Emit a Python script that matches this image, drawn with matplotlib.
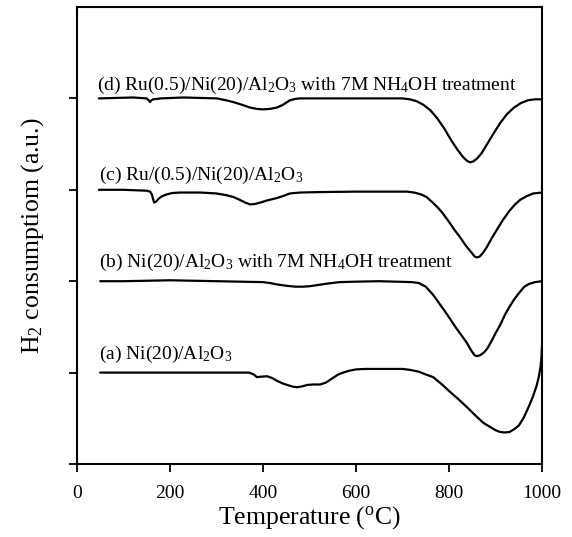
import matplotlib
matplotlib.use("Agg")
import matplotlib.pyplot as plt

plt.rcParams['font.family'] = ['Liberation Serif', 'DejaVu Serif']
plt.rcParams['mathtext.fontset'] = 'custom'
plt.rcParams['mathtext.rm'] = 'Liberation Serif'
plt.rcParams['mathtext.it'] = 'Liberation Serif:italic'

# (a) Ni(20)/Al2O3
a_x = [50, 100, 200, 300, 370, 380, 387, 395, 409, 420, 430, 443, 455, 465, 473, 485, 495, 508,
       523, 535, 550, 562, 572, 585, 600, 620, 650, 700, 716, 735, 750, 766, 785, 802, 820, 839,
       857, 874, 890, 900, 910, 920, 930, 940, 950, 960, 970, 980, 988, 993, 997, 999, 1000]
a_y = [1.00, 1.00, 1.00, 1.00, 1.00, 0.98, 0.95, 0.955, 0.96, 0.94, 0.91, 0.88, 0.86, 0.845, 0.84,
       0.85, 0.865, 0.87, 0.87, 0.89, 0.94, 0.98, 1.00, 1.02, 1.035, 1.04, 1.04, 1.04, 1.03, 1.01,
       0.98, 0.95, 0.87, 0.79, 0.71, 0.62, 0.53, 0.45, 0.40, 0.37, 0.35, 0.345, 0.35, 0.38, 0.42,
       0.50, 0.61, 0.73, 0.85, 0.95, 1.07, 1.18, 1.30]

# (b) Ni(20)/Al2O3 with 7M NH4OH treatment
b_x = [50, 100, 200, 300, 400, 415, 430, 450, 470, 486, 500, 520, 540, 565, 600, 650, 720, 735,
       750, 766, 780, 790, 802, 815, 828, 839, 848, 855, 860, 867, 875, 882, 892, 900, 910, 920,
       930, 940, 952, 962, 972, 985, 1000]
b_y = [2.00, 2.00, 2.01, 2.00, 1.99, 1.98, 1.965, 1.95, 1.94, 1.94, 1.945, 1.96, 1.975, 1.99,
       1.995, 2.00, 1.99, 1.98, 1.94, 1.85, 1.75, 1.68, 1.59, 1.49, 1.40, 1.32, 1.24, 1.19, 1.18,
       1.19, 1.22, 1.26, 1.35, 1.43, 1.52, 1.63, 1.72, 1.80, 1.88, 1.94, 1.97, 1.99, 2.00]

# (c) Ru/(0.5)/Ni(20)/Al2O3
c_x = [47, 100, 150, 157, 161, 164, 166, 170, 175, 183, 193, 205, 222, 265, 300, 322, 337, 350,
       362, 372, 383, 394, 410, 430, 445, 458, 480, 520, 600, 650, 710, 725, 740, 752, 765, 777,
       787, 800, 812, 824, 836, 849, 855, 860, 866, 873, 881, 893, 905, 916, 930, 942, 953, 967,
       981, 1000]
c_y = [3.00, 3.00, 2.99, 2.98, 2.95, 2.89, 2.86, 2.87, 2.90, 2.93, 2.95, 2.965, 2.97, 2.97, 2.96,
       2.94, 2.92, 2.89, 2.86, 2.84, 2.845, 2.86, 2.885, 2.91, 2.935, 2.96, 2.97, 2.975, 2.98,
       2.98, 2.98, 2.97, 2.95, 2.92, 2.86, 2.80, 2.74, 2.65, 2.56, 2.48, 2.39, 2.31, 2.27, 2.26,
       2.27, 2.31, 2.37, 2.48, 2.58, 2.67, 2.77, 2.84, 2.89, 2.93, 2.96, 2.97]

# (d) Ru(0.5)/Ni(20)/Al2O3 with 7M NH4OH treatment
d_x = [47, 121, 150, 154, 157, 160, 164, 180, 229, 301, 320, 336, 355, 372, 387, 400, 415, 430,
       443, 452, 458, 470, 480, 550, 650, 700, 716, 730, 745, 760, 775, 790, 805, 818, 830, 838,
       845, 852, 860, 870, 882, 895, 910, 925, 940, 955, 970, 985, 1000]
d_y = [4.00, 4.01, 4.00, 3.98, 3.96, 3.98, 3.99, 4.00, 4.01, 4.00, 3.98, 3.96, 3.93, 3.90, 3.885,
       3.88, 3.885, 3.90, 3.93, 3.96, 3.98, 3.995, 4.00, 4.00, 4.00, 4.00, 3.99, 3.97, 3.93, 3.87,
       3.78, 3.67, 3.54, 3.44, 3.36, 3.32, 3.30, 3.31, 3.34, 3.40, 3.50, 3.61, 3.73, 3.83, 3.90,
       3.95, 3.98, 3.99, 3.99]

labels = [r'(a) Ni(20)/Al$_2$O$_3$',
          r'(b) Ni(20)/Al$_2$O$_3$ with 7M NH$_4$OH treatment',
          r'(c) Ru/(0.5)/Ni(20)/Al$_2$O$_3$',
          r'(d) Ru(0.5)/Ni(20)/Al$_2$O$_3$ with 7M NH$_4$OH treatment']
label_x = [48, 48, 48, 43]
label_y = [1.20, 2.20, 3.16, 4.14]

xticks = [0, 200, 400, 600, 800, 1000]
yticks = [0, 1, 2, 3, 4]

fig = plt.figure(figsize=(5.72, 5.37), dpi=100)
ax = fig.add_axes([77/572, 73/537, 465/572, 457/537])

for xs, ys in [(a_x, a_y), (b_x, b_y), (c_x, c_y), (d_x, d_y)]:
    ax.plot(xs, ys, color='black', lw=1.6, solid_joinstyle='round', solid_capstyle='round')

for lx, ly, t in zip(label_x, label_y, labels):
    ax.text(lx, ly, t, fontsize=14, va='center', ha='left')

ax.set_xlim(0, 1000)
ax.set_ylim(0, 5)
ax.set_xticks(xticks)
ax.set_xticklabels([str(v) for v in xticks], fontsize=14)
ax.set_yticks(yticks)
ax.set_yticklabels([])
ax.tick_params(direction='out', length=6, width=1.3, pad=9)
for s in ax.spines.values():
    s.set_linewidth(1.5)

ax.set_xlabel(r'Temperature ($^{\rm o}$C)', fontsize=18.5, labelpad=2)
ax.set_ylabel(r'H$_2$ consumptiom (a.u.)', fontsize=18.5, labelpad=7)

fig.savefig('out.png', dpi=100)
